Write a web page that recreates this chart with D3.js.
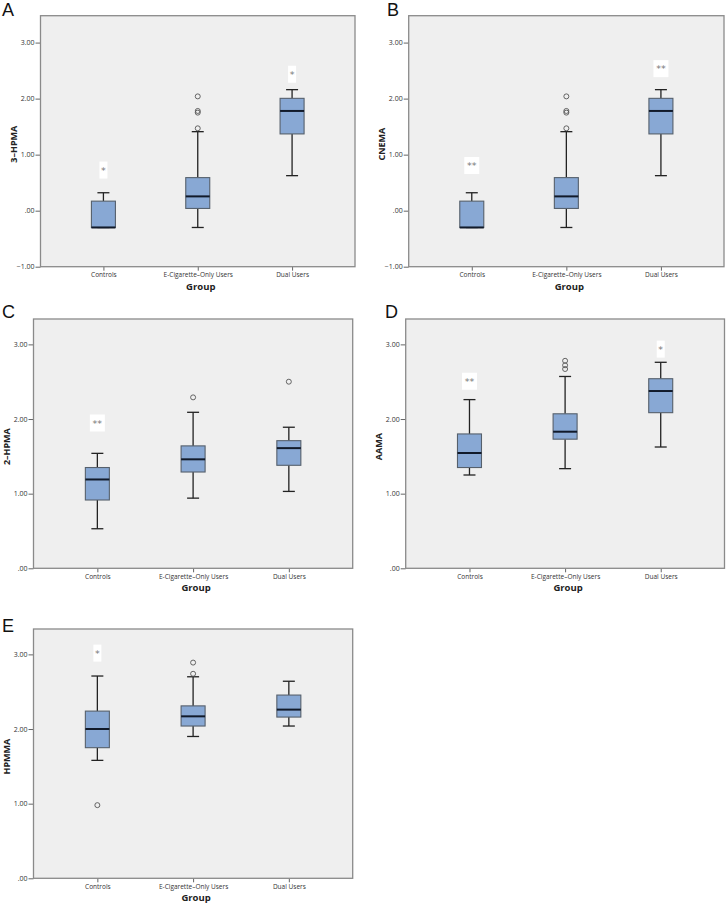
<!DOCTYPE html>
<html>
<head>
<meta charset="utf-8">
<script src="https://cdn.jsdelivr.net/npm/d3@7"></script>
<style>
  html, body { margin: 0; padding: 0; background: #fff; }
  svg { display: block; font-family: "Open Sans", "DejaVu Sans", sans-serif; }
</style>
</head>
<body>
<svg id="chart" width="727" height="907"></svg>
<script>
// ---------------- DATA ----------------
const categories = ["Controls", "E-Cigarette–Only Users", "Dual Users"];
const panelLetters = ["A", "B", "C", "D", "E"];
const yTitles = ["3–HPMA", "CNEMA", "2–HPMA", "AAMA", "HPMMA"];
const xTitle = "Group";

// y tick values per panel
const ticksA = [-1, 0, 1, 2, 3];
const ticksB = [-1, 0, 1, 2, 3];
const ticksC = [0, 1, 2, 3];
const ticksD = [0, 1, 2, 3];
const ticksE = [0, 1, 2, 3];

// box stats per group: [lower whisker, Q1, median, Q3, upper whisker]
const boxesA = [
  [-0.30, -0.30, -0.30, 0.17, 0.32],
  [-0.30, 0.04, 0.255, 0.59, 1.41],
  [0.625, 1.37, 1.78, 2.005, 2.16]
];
const boxesB = [
  [-0.30, -0.30, -0.30, 0.17, 0.32],
  [-0.30, 0.04, 0.255, 0.59, 1.41],
  [0.625, 1.37, 1.78, 2.005, 2.16]
];
const boxesC = [
  [0.53, 0.915, 1.19, 1.35, 1.54],
  [0.94, 1.29, 1.46, 1.64, 2.09],
  [1.03, 1.38, 1.61, 1.71, 1.89]
];
const boxesD = [
  [1.25, 1.35, 1.545, 1.80, 2.26],
  [1.335, 1.73, 1.83, 2.07, 2.57],
  [1.625, 2.085, 2.375, 2.54, 2.76]
];
const boxesE = [
  [1.58, 1.75, 2.00, 2.24, 2.71],
  [1.90, 2.04, 2.17, 2.31, 2.70],
  [2.04, 2.16, 2.26, 2.455, 2.64]
];

// outliers per group
const outliersA = [[], [2.04, 1.78, 1.75, 1.47], []];
const outliersB = [[], [2.04, 1.78, 1.75, 1.47], []];
const outliersC = [[], [2.29], [2.50]];
const outliersD = [[], [2.78, 2.72, 2.67], []];
const outliersE = [[0.98], [2.89, 2.74], []];

// significance marks per group: [label, y value]
const starsA = [["*", 0.77], null, ["*", 2.48]];
const starsB = [["**", 0.85], null, ["**", 2.58]];
const starsC = [["**", 1.98], null, null];
const starsD = [["**", 2.54], null, ["*", 2.97]];
const starsE = [["*", 3.05], null, null];

// y domains
const domainA = [-1, 3.48];
const domainB = [-1, 3.48];
const domainC = [0, 3.34];
const domainD = [0, 3.34];
const domainE = [0, 3.34];

// ---------------- LAYOUT ----------------
const layout = [
  { x0: 40.5, x1: 355, y0: 15.7, y1: 266.7, lx: 2, ly: 16 },
  { x0: 408.7, x1: 724, y0: 15.7, y1: 266.7, lx: 387, ly: 16 },
  { x0: 33.5, x1: 352.7, y0: 319, y1: 568.3, lx: 2, ly: 318 },
  { x0: 405.7, x1: 724.5, y0: 319, y1: 568.3, lx: 385, ly: 318 },
  { x0: 33.5, x1: 352.7, y0: 629, y1: 878.3, lx: 2, ly: 632 }
];

const panels = [
  { ticks: ticksA, boxes: boxesA, outliers: outliersA, stars: starsA, domain: domainA },
  { ticks: ticksB, boxes: boxesB, outliers: outliersB, stars: starsB, domain: domainB },
  { ticks: ticksC, boxes: boxesC, outliers: outliersC, stars: starsC, domain: domainC },
  { ticks: ticksD, boxes: boxesD, outliers: outliersD, stars: starsD, domain: domainD },
  { ticks: ticksE, boxes: boxesE, outliers: outliersE, stars: starsE, domain: domainE }
].map((p, i) => Object.assign(p, { letter: panelLetters[i], yTitle: yTitles[i] }, layout[i]));

const svg = d3.select("#chart");
const fmt = v => { const s = d3.format(".2f")(v); return s.replace(/^0\./, ".").replace(/^-0\./, "-."); };

const boxW = 24, capW = 12;

panels.forEach(p => {
  const g = svg.append("g");
  const x = d3.scalePoint().domain(categories).range([p.x0, p.x1]).padding(0.667);
  const y = d3.scaleLinear().domain(p.domain).range([p.y1, p.y0]);

  // panel letter
  g.append("text").attr("x", p.lx).attr("y", p.ly)
    .attr("font-family", "Liberation Sans, Arial, sans-serif")
    .attr("font-size", 18).attr("fill", "#111").text(p.letter);

  // plot background
  g.append("rect").attr("x", p.x0).attr("y", p.y0)
    .attr("width", p.x1 - p.x0).attr("height", p.y1 - p.y0)
    .attr("fill", "#efefef");

  // y axis
  const yAxis = d3.axisLeft(y).tickValues(p.ticks).tickFormat(fmt).tickSize(5).tickPadding(1);
  const ya = g.append("g").attr("transform", `translate(${p.x0},0)`).call(yAxis);
  ya.select(".domain").remove();
  ya.selectAll(".tick line").attr("stroke", "#666");
  ya.selectAll(".tick text").attr("font-size", 7).attr("fill", "#333")
    .attr("font-family", "Open Sans, sans-serif");

  // x axis
  const xAxis = d3.axisBottom(x).tickSize(4).tickPadding(2);
  const xa = g.append("g").attr("transform", `translate(0,${p.y1})`).call(xAxis);
  xa.select(".domain").remove();
  xa.selectAll(".tick line").attr("stroke", "#666");
  xa.selectAll(".tick text").attr("font-size", 6.5).attr("fill", "#333")
    .attr("font-family", "Open Sans, sans-serif");

  // axis titles
  g.append("text").attr("x", (p.x0 + p.x1) / 2 + 3).attr("y", p.y1 + 23)
    .attr("text-anchor", "middle").attr("font-size", 9.5).attr("font-weight", "bold")
    .attr("fill", "#222").text(xTitle);
  g.append("text")
    .attr("transform", `translate(${p.x0 - 24},${(p.y0 + p.y1) / 2 + 3}) rotate(-90)`)
    .attr("text-anchor", "middle").attr("font-size", 9).attr("font-weight", "bold")
    .attr("fill", "#222").text(p.yTitle);

  // boxes
  categories.forEach((c, i) => {
    const cx = x(c);
    const [lo, q1, med, q3, hi] = p.boxes[i];
    const bg = g.append("g");
    // whiskers
    bg.append("line").attr("x1", cx).attr("x2", cx).attr("y1", y(q3)).attr("y2", y(hi))
      .attr("stroke", "#222").attr("stroke-width", 1.3);
    bg.append("line").attr("x1", cx).attr("x2", cx).attr("y1", y(q1)).attr("y2", y(lo))
      .attr("stroke", "#222").attr("stroke-width", 1.3);
    bg.append("line").attr("x1", cx - capW / 2).attr("x2", cx + capW / 2).attr("y1", y(hi)).attr("y2", y(hi))
      .attr("stroke", "#222").attr("stroke-width", 1.3);
    bg.append("line").attr("x1", cx - capW / 2).attr("x2", cx + capW / 2).attr("y1", y(lo)).attr("y2", y(lo))
      .attr("stroke", "#222").attr("stroke-width", 1.3);
    // box
    bg.append("rect").attr("x", cx - boxW / 2).attr("y", y(q3))
      .attr("width", boxW).attr("height", Math.max(0.5, y(q1) - y(q3)))
      .attr("fill", "#88a8d4").attr("stroke", "#56606c").attr("stroke-width", 1.1);
    // median
    bg.append("line").attr("x1", cx - boxW / 2).attr("x2", cx + boxW / 2).attr("y1", y(med)).attr("y2", y(med))
      .attr("stroke", "#111a2a").attr("stroke-width", 2);
    // outliers
    bg.selectAll("circle.out").data(p.outliers[i]).enter().append("circle")
      .attr("class", "out").attr("cx", cx).attr("cy", d => y(d)).attr("r", 2.5)
      .attr("fill", "none").attr("stroke", "#555").attr("stroke-width", 0.9);
    // stars
    const s = p.stars[i];
    if (s) {
      const w = s[0].length === 1 ? 8 : 15;
      bg.append("rect").attr("x", cx - w / 2).attr("y", y(s[1]) - 6)
        .attr("width", w).attr("height", 17).attr("fill", "#fff");
      bg.append("text").attr("x", cx).attr("y", y(s[1]) + 6)
        .attr("text-anchor", "middle").attr("font-size", 9.5)
        .attr("font-family", "DejaVu Sans, sans-serif")
        .attr("fill", "#777").text(s[0]);
    }
  });

  // frame
  g.append("rect").attr("x", p.x0).attr("y", p.y0)
    .attr("width", p.x1 - p.x0).attr("height", p.y1 - p.y0)
    .attr("fill", "none").attr("stroke", "#8a8a8a").attr("stroke-width", 1.3);
});
</script>
</body>
</html>
